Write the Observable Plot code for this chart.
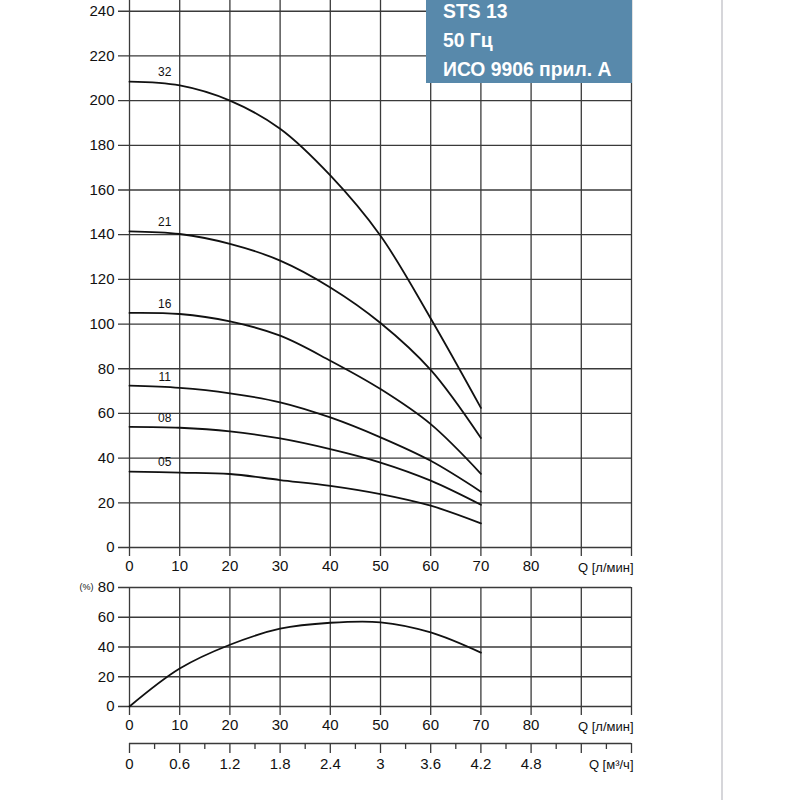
<!DOCTYPE html>
<html>
<head>
<meta charset="utf-8">
<script src="https://cdn.jsdelivr.net/npm/d3@7"></script>
<script src="https://cdn.jsdelivr.net/npm/@observablehq/plot@0.6"></script>
<style>
  html, body { margin: 0; padding: 0; background: #fff; }
  #wrap { position: relative; width: 800px; height: 800px; overflow: hidden; font-family: "Liberation Sans", Arial, sans-serif; }
  #wrap > .layer { position: absolute; left: 0; }
  #infobox { position: absolute; left: 426px; top: 0; width: 206px; height: 83px; background: #5889ab; }
  #infobox span { position: absolute; color: #fff; font-family: "Liberation Sans", Arial, sans-serif; font-weight: bold; font-size: 21px; line-height: 21px; white-space: nowrap; transform: scaleX(0.92); transform-origin: 0 0; }
  #pageline { position: absolute; left: 721px; top: 0; width: 2px; height: 800px; background: #d6d6da; }
</style>
</head>
<body>
<div id="wrap"></div>
<script>
// ---- data ----
const flow = [0, 10, 20, 30, 40, 50, 60, 70];               // Q, l/min
const head05 = [34, 33.5, 32.9, 30.2, 27.6, 23.9, 18.7, 10.8];
const head08 = [54, 53.6, 52, 48.8, 44, 38, 29.9, 19.1];
const head11 = [72.4, 71.4, 69, 65, 58.2, 49.3, 38.8, 25];
const head16 = [105, 104.5, 101.2, 94.8, 83.6, 70.9, 55.2, 33];
const head21 = [141.5, 140.3, 135.9, 128.4, 116.4, 100.5, 79.5, 49];
const head32 = [208.5, 206.8, 200, 187.4, 166.5, 139.5, 102.5, 62.5];
const efficiency = [0, 25.5, 41.5, 52.3, 56.3, 56.6, 49.8, 36.2]; // %
const models = ["05", "08", "11", "16", "21", "32"];
const headSeries = [head05, head08, head11, head16, head21, head32];

const headTicks = [0, 20, 40, 60, 80, 100, 120, 140, 160, 180, 200, 220, 240];
const flowGrid = [0, 10, 20, 30, 40, 50, 60, 70, 80, 90, 100];
const flowLabels = [0, 10, 20, 30, 40, 50, 60, 70, 80];
const effTicks = [0, 20, 40, 60, 80];
const m3Major = [0, 0.6, 1.2, 1.8, 2.4, 3, 3.6, 4.2, 4.8, 5.4, 6];
const m3Minor = [0.3, 0.9, 1.5, 2.1, 2.7, 3.3, 3.9, 4.5, 5.1, 5.7];
const m3Labels = ["0", "0.6", "1.2", "1.8", "2.4", "3", "3.6", "4.2", "4.8", "", ""];
const flowUnit = "Q [л/мин]";
const m3Unit = "Q [м³/ч]";
const effUnit = "(%)";
const titleLines = ["STS 13", "50 Гц", "ИСО 9906 прил. А"];

// tables built from arrays
const headData = [];
models.forEach((m, i) => flow.forEach((q, j) => headData.push({model: m, q, h: headSeries[i][j]})));
const modelLabels = models.map((m, i) => ({model: m, q: 7, h: headSeries[i][0]}));
const effData = flow.map((q, j) => ({q, e: efficiency[j]}));

const gridColor = "#3a3a3a";
const lineColor = "#111";
const font = "Liberation Sans, Arial, sans-serif";
const wrap = document.getElementById("wrap");

function place(el, top) {
  const d = document.createElement("div");
  d.className = "layer";
  d.style.top = top + "px";
  d.appendChild(el);
  wrap.appendChild(d);
}

// ---- upper chart: head ----
const upper = Plot.plot({
  width: 800, height: 580,
  marginLeft: 129, marginRight: 169, marginTop: 0, marginBottom: 33,
  style: {fontFamily: font, fontSize: "15px", color: "#111", background: "transparent", overflow: "visible"},
  x: {domain: [0, 100], axis: null},
  y: {domain: [0, 244.8], axis: null},
  marks: [
    Plot.ruleY(headTicks, {stroke: gridColor, strokeWidth: 1.3, insetLeft: -11}),
    Plot.ruleX(flowGrid, {stroke: gridColor, strokeWidth: 1.3, insetBottom: -9}),
    Plot.line(headData, {x: "q", y: "h", z: "model", curve: "catmull-rom", stroke: lineColor, strokeWidth: 1.8}),
    Plot.text(modelLabels, {x: "q", y: "h", text: "model", dy: -9, fontSize: 12, fill: "#111"}),
    Plot.axisY(headTicks, {tickSize: 0, tickPadding: 15, fontSize: 15, label: null}),
    Plot.axisX(flowLabels, {tickSize: 0, tickPadding: 13, fontSize: 15, label: null}),
    Plot.text([flowUnit], {x: 100, y: 0, text: d => d, textAnchor: "end", dx: 2, dy: 20, fontSize: 13, fill: "#111"})
  ]
});
place(upper, 0);

// ---- lower chart: efficiency ----
const lower = Plot.plot({
  width: 800, height: 170,
  marginLeft: 129, marginRight: 169, marginTop: 17, marginBottom: 34,
  style: {fontFamily: font, fontSize: "15px", color: "#111", background: "transparent", overflow: "visible"},
  x: {domain: [0, 100], axis: null},
  y: {domain: [0, 80], axis: null},
  marks: [
    Plot.ruleY(effTicks, {stroke: gridColor, strokeWidth: 1.3, insetLeft: -11}),
    Plot.ruleX(flowGrid, {stroke: gridColor, strokeWidth: 1.3, insetBottom: -9}),
    Plot.line(effData, {x: "q", y: "e", curve: "catmull-rom", stroke: lineColor, strokeWidth: 1.8}),
    Plot.axisY(effTicks, {tickSize: 0, tickPadding: 15, fontSize: 15, label: null}),
    Plot.axisX(flowLabels, {tickSize: 0, tickPadding: 13, fontSize: 15, label: null}),
    Plot.text([effUnit], {x: 0, y: 80, text: d => d, textAnchor: "end", dx: -36, fontSize: 9, fill: "#111"}),
    Plot.text([flowUnit], {x: 100, y: 0, text: d => d, textAnchor: "end", dx: 2, dy: 20, fontSize: 13, fill: "#111"})
  ]
});
place(lower, 570);

// ---- bottom axis: m3/h ----
const bottom = Plot.plot({
  width: 800, height: 60,
  marginLeft: 129, marginRight: 169, marginTop: 1, marginBottom: 58,
  style: {fontFamily: font, fontSize: "15px", color: "#111", background: "transparent", overflow: "visible"},
  x: {domain: [0, 6], axis: null},
  y: {domain: [0, 1], axis: null},
  marks: [
    Plot.ruleY([0], {stroke: gridColor, strokeWidth: 1.3}),
    Plot.axisX(m3Minor, {tickSize: 6, stroke: gridColor, strokeWidth: 1.3, tickFormat: () => "", label: null}),
    Plot.axisX(m3Major, {tickSize: 10, tickPadding: 5, stroke: gridColor, strokeWidth: 1.3, fontSize: 15, tickFormat: (d, i) => m3Labels[i], label: null}),
    Plot.text([m3Unit], {x: 6, y: 0, text: d => d, textAnchor: "end", dx: 2, dy: 21, fontSize: 13, fill: "#111"})
  ]
});
place(bottom, 741);

// ---- title box and page border ----
const box = document.createElement("div");
box.id = "infobox";
titleLines.forEach((t, i) => {
  const s = document.createElement("span");
  s.textContent = t;
  s.style.left = "17px";
  s.style.top = (0 + i * 29) + "px";
  box.appendChild(s);
});
wrap.appendChild(box);
const pl = document.createElement("div");
pl.id = "pageline";
wrap.appendChild(pl);
</script>
</body>
</html>
